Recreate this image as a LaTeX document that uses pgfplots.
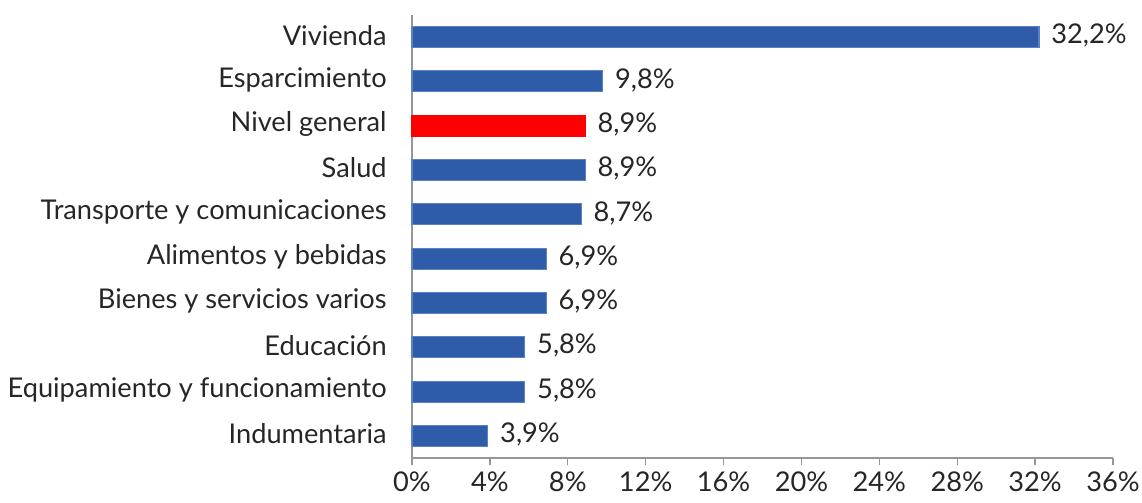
\documentclass[border=0pt]{standalone}
\usepackage{fontspec}
\setmainfont{Lato}
\usepackage{pgfplots}
\pgfplotsset{compat=1.18}
\usetikzlibrary{calc}

\definecolor{barblue}{RGB}{46,92,168}
\definecolor{baredge}{RGB}{90,130,195}
\definecolor{axgray}{RGB}{150,150,150}
\definecolor{txt}{RGB}{38,38,38}

\begin{document}
\begin{tikzpicture}[x=0.75pt,y=0.75pt]
\begin{axis}[
    name=ax,
    scale only axis,
    width=525.75pt, height=332.25pt,
    xbar, bar width=15.75pt, bar shift=0pt,
    xmin=0, xmax=36,
    ymin=-0.5, ymax=9.5,
    axis x line*=bottom, axis y line*=left,
    axis line style={axgray, line width=1pt},
    every tick/.style={axgray, line width=1pt},
    tick align=outside,
    xtick={0,4,...,36},
    xticklabel={\pgfmathprintnumber{\tick}\%},
    major tick length=5.5pt,
    ytick={0,...,9},
    yticklabels={Indumentaria,Equipamiento y funcionamiento,Educación,Bienes y servicios varios,Alimentos y bebidas,Transporte y comunicaciones,Salud,Nivel general,Esparcimiento,Vivienda},
    y tick style={draw=none},
    minor ytick={-0.5,0.5,...,9.5},
    minor y tick style={axgray, line width=1pt},
    minor tick length=6pt,
    yticklabel style={font=\fontsize{20.4}{24}\selectfont, text=txt, xshift=-10pt, yshift=1.5pt},
    xticklabel style={font=\fontsize{20.4}{24}\selectfont, text=txt, yshift=-1pt},
    /pgf/number format/assume math mode=true,
    nodes near coords={\pgfmathprintnumber[fixed,fixed zerofill,precision=1,use comma]{\pgfplotspointmeta}\%},
    nodes near coords style={font=\fontsize{20.4}{24}\selectfont, text=txt, xshift=5.5pt, yshift=1pt},
    clip=false,
]
\addplot[fill=barblue, draw=baredge, line width=0.8pt] coordinates {
(3.9,0) (5.8,1) (5.8,2) (6.9,3) (6.9,4) (8.7,5) (8.9,6) (9.8,8) (32.2,9)};
\addplot[fill=red, draw=red, line width=0.8pt] coordinates {(8.9,7)};
\end{axis}
\pgfresetboundingbox
\path[use as bounding box] ($(ax.south west)+(-412,-45)$) rectangle ($(ax.north east)+(29,15)$);
\end{tikzpicture}
\end{document}
